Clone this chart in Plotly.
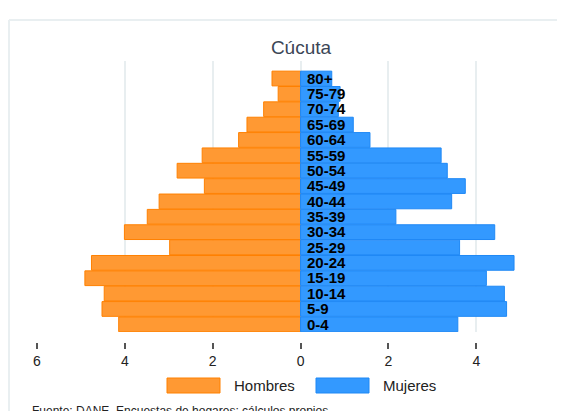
import plotly.graph_objects as go

# ---- data ----
grupos = ["0-4", "5-9", "10-14", "15-19", "20-24", "25-29", "30-34", "35-39",
          "40-44", "45-49", "50-54", "55-59", "60-64", "65-69", "70-74", "75-79", "80+"]
hombres = [4.14, 4.52, 4.47, 4.91, 4.76, 2.98, 4.01, 3.49,
           3.22, 2.19, 2.81, 2.24, 1.41, 1.22, 0.84, 0.51, 0.65]
mujeres = [3.58, 4.69, 4.64, 4.23, 4.86, 3.62, 4.42, 2.17,
           3.44, 3.75, 3.34, 3.20, 1.58, 1.20, 0.86, 0.90, 0.71]
tick_vals = [-6, -4, -2, 0, 2, 4, 6]
tick_text = ["6", "4", "2", "0", "2", "4", "6"]
titulo = "Cúcuta"
fuente = "Fuente: DANE. Encuestas de hogares; cálculos propios"

OFF = 8                    # page body margin in the browser
W, H = 565 - OFF, 411 - OFF
# reference pixel positions (page coords)
PLOT_LEFT, PLOT_RIGHT, PLOT_TOP, PLOT_BOTTOM, AXIS_Y = 37, 565, 61, 332, 342
ML = PLOT_LEFT - OFF
MR = max(0, W - (PLOT_RIGHT - OFF))
MT = PLOT_TOP - OFF
MB = H - (AXIS_Y - OFF)
PW, PH = W - ML - MR, H - MT - MB


def px_x(p):
    return (p - OFF - ML) / PW


def px_y(p):
    return (H - MB - (p - OFF)) / PH


ORANGE, ORANGE_L = "#ff9933", "#ff8000"
BLUE, BLUE_L = "#3399ff", "#1f88f5"
FONT = "Liberation Sans, Arial"

fig = go.Figure()
fig.add_trace(go.Bar(y=grupos, x=[-v for v in hombres], orientation="h", name="Hombres",
                     marker=dict(color=ORANGE, line=dict(color=ORANGE_L, width=1)),
                     showlegend=False))
fig.add_trace(go.Bar(y=grupos, x=mujeres, orientation="h", name="Mujeres",
                     marker=dict(color=BLUE, line=dict(color=BLUE_L, width=1)),
                     showlegend=False))

shapes = []
annotations = []
# card border
shapes.append(dict(type="line", xref="paper", yref="paper",
                   x0=px_x(9), x1=px_x(580), y0=px_y(20), y1=px_y(20),
                   line=dict(color="#e9eff1", width=2)))
shapes.append(dict(type="line", xref="paper", yref="paper",
                   x0=px_x(9), x1=px_x(9), y0=px_y(20), y1=px_y(430),
                   line=dict(color="#e9eff1", width=2)))
# custom legend
legend_items = [("Hombres", ORANGE, ORANGE_L, 167), ("Mujeres", BLUE, BLUE_L, 316)]
for name, fill, line, x0 in legend_items:
    shapes.append(dict(type="rect", xref="paper", yref="paper",
                       x0=px_x(x0), x1=px_x(x0 + 53), y0=px_y(378), y1=px_y(393),
                       fillcolor=fill, line=dict(color=line, width=1)))
    annotations.append(dict(text=name, xref="paper", yref="paper", x=px_x(x0 + 65),
                            y=px_y(385.5), xanchor="left", yanchor="middle", showarrow=False,
                            font=dict(family=FONT, size=15, color="#222")))
annotations.append(dict(text=fuente, xref="paper", yref="paper", x=px_x(30), y=px_y(402),
                        xanchor="left", yanchor="top", showarrow=False,
                        font=dict(family=FONT, size=12, color="#222")))

fig.update_layout(
    width=W, height=H,
    margin=dict(l=ML, r=MR, t=MT, b=MB, autoexpand=False),
    paper_bgcolor="white", plot_bgcolor="white",
    barmode="relative", bargap=0.04,
    title=dict(text=titulo, x=0.5, xref="paper", xanchor="center",
               y=1 - (47 - OFF) / H, yref="container", yanchor="middle",
               font=dict(family=FONT, size=19, color="#3b4656")),
    xaxis=dict(range=[-6, 6.02], tickvals=tick_vals, ticktext=tick_text,
               anchor="free", position=0, ticklabeloverflow="allow",
               showgrid=True, gridcolor="#e8eef0", gridwidth=1.5,
               zeroline=False, showline=False,
               ticks="outside", ticklen=6, tickwidth=1.5, tickcolor="#555",
               tickfont=dict(family=FONT, size=14, color="#222"),
               fixedrange=True),
    yaxis=dict(type="category", categoryorder="array", categoryarray=grupos,
               tickmode="array", tickvals=grupos, ticktext=grupos,
               range=[-0.5, 17.14], domain=[px_y(PLOT_BOTTOM), 1],
               anchor="free", position=0.5, side="right",
               showgrid=False, zeroline=False, showline=False, ticks="",
               ticklabelstandoff=5,
               tickfont=dict(family="Liberation Sans Narrow, Arial Narrow, Liberation Sans",
                             size=15, color="#000", weight="bold"),
               fixedrange=True),
    shapes=shapes, annotations=annotations,
)

fig.write_html("out.html")
